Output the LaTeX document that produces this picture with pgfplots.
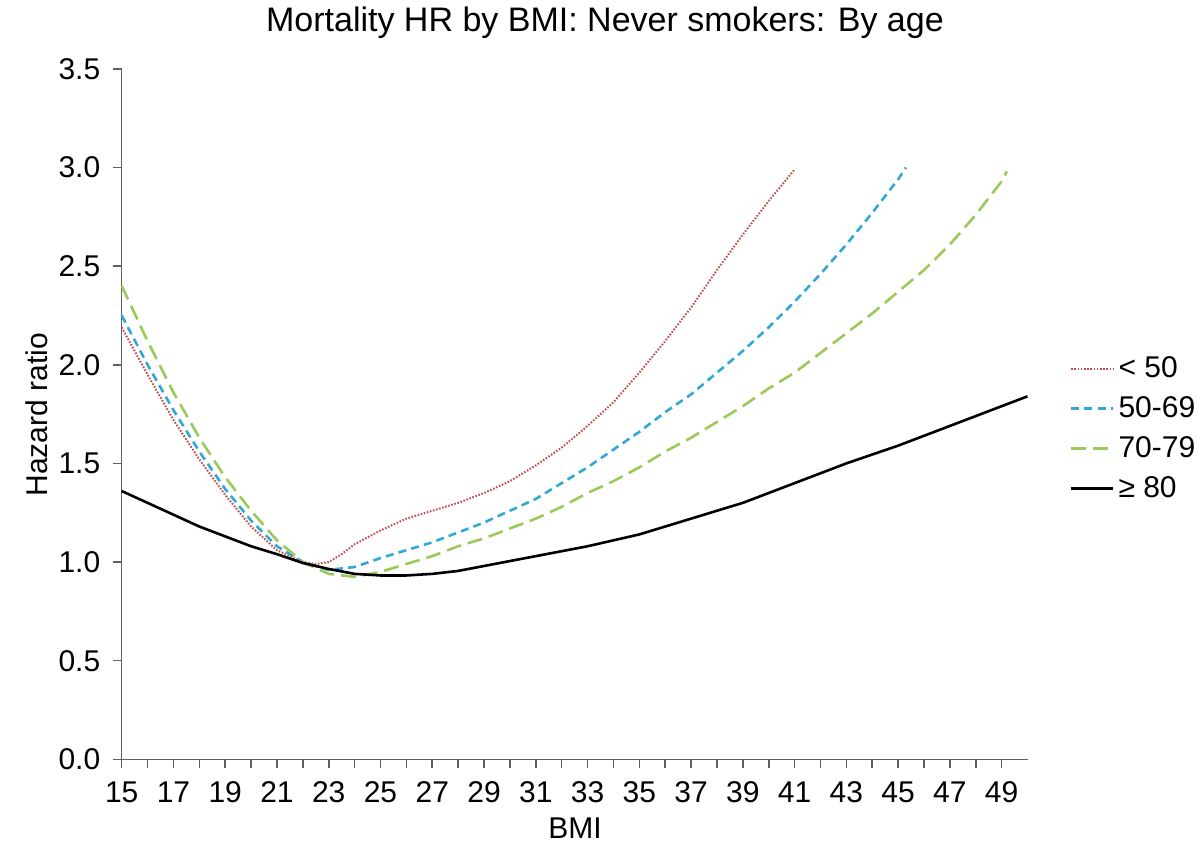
\documentclass[border=0pt]{standalone}
\usepackage{pgfplots}
\pgfplotsset{compat=1.18}
\usepackage{fontspec}
\setmainfont{Liberation Sans}
\definecolor{cred}{HTML}{C0504D}
\definecolor{cblue}{HTML}{31A9D4}
\definecolor{cgreen}{HTML}{9BC95A}
\definecolor{axgray}{HTML}{606060}
\begin{document}
\begin{tikzpicture}
\path[use as bounding box] (0,0) rectangle (600.5pt,421pt);
\begin{axis}[
  at={(60.85pt,41.35pt)}, anchor=south west,
  scale only axis, width=452.9pt, height=345.2pt,
  xmin=15, xmax=50, ymin=0, ymax=3.5,
  axis lines*=left,
  axis line style={axgray, line width=0.8pt},
  every tick/.style={axgray, line width=0.8pt},
  tick align=outside,
  major tick length=4.2pt, minor tick length=4.2pt,
  xtick={15,17,...,49}, minor xtick={16,18,...,48},
  ytick={0,0.5,...,3.5},
  yticklabel style={xshift=-3pt, /pgf/number format/.cd, fixed, fixed zerofill, precision=1},
  /pgf/number format/assume math mode=true,
  font=\fontsize{15}{18}\selectfont,
  ticklabel style={font=\fontsize{15}{18}\selectfont},
  xticklabel style={yshift=-3.5pt},
  title={Mortality HR by BMI: Never smokers: By age},
  title style={at={(axis description cs:0.5335,1)}, anchor=center, yshift=17pt, font=\fontsize{17}{20}\selectfont},
  xlabel={BMI},
  xlabel style={at={(axis description cs:0.5004,0)}, anchor=center, yshift=-34.5pt},
  ylabel={Hazard ratio},
  ylabel style={at={(axis description cs:0,0.499)}, anchor=center, yshift=42.3pt},
  legend cell align=left,
  legend style={draw=none, fill=none, at={(axis description cs:1,0.479)}, anchor=west, xshift=21pt,
    inner sep=0pt, row sep=4pt, font=\fontsize{15}{18}\selectfont,
    nodes={inner sep=2pt},
    /tikz/every even column/.append style={column sep=3pt}},
  legend image code/.code={\draw[#1] (0pt,0pt) -- (21pt,0pt);},
  clip=false,
]
\addplot[cred, line width=1pt, dash pattern=on 0.8pt off 0.8pt] coordinates {
(15,2.19) (16,1.95) (17,1.72) (18,1.52) (19,1.34) (20,1.18) (21,1.06) (22,1.00) (22.5,0.99) (23,1.00) (23.5,1.04) (24,1.09) (25,1.16) (26,1.22) (27,1.26) (28,1.30) (29,1.35) (30,1.41) (31,1.49) (32,1.58) (33,1.69) (34,1.81) (35,1.96) (36,2.12) (37,2.29) (38,2.48) (39,2.66) (40,2.83) (41,2.99)
};
\addlegendentry{< 50}
\addplot[cblue, line width=1.3pt, dash pattern=on 4pt off 2.6pt] coordinates {
(15,2.25) (16,2.00) (17,1.77) (18,1.56) (19,1.37) (20,1.21) (21,1.08) (22,1.00) (23,0.96) (24,0.975) (25,1.02) (26,1.06) (27,1.10) (28,1.15) (29,1.20) (30,1.26) (31,1.32) (32,1.40) (33,1.48) (34,1.57) (35,1.66) (36,1.76) (37,1.85) (38,1.96) (39,2.07) (40,2.19) (41,2.32) (42,2.46) (43,2.61) (44,2.77) (45,2.94) (45.3,3.00)
};
\addlegendentry{50-69}
\addplot[cgreen, line width=1.3pt, dash pattern=on 7.5pt off 3.5pt] coordinates {
(15,2.40) (16,2.12) (17,1.86) (18,1.63) (19,1.43) (20,1.26) (21,1.11) (22,1.00) (23,0.94) (24,0.925) (25,0.95) (26,0.99) (27,1.03) (28,1.08) (29,1.12) (30,1.17) (31,1.22) (32,1.28) (33,1.35) (34,1.41) (35,1.48) (36,1.56) (37,1.63) (38,1.71) (39,1.79) (40,1.88) (41,1.96) (42,2.06) (43,2.16) (44,2.26) (45,2.37) (46,2.48) (47,2.61) (48,2.76) (49,2.93) (49.2,2.98)
};
\addlegendentry{70-79}
\addplot[black, line width=1.3pt] coordinates {
(15,1.36) (16,1.30) (17,1.24) (18,1.18) (19,1.13) (20,1.08) (21,1.04) (22,0.995) (23,0.965) (24,0.94) (25,0.932) (26,0.932) (27,0.94) (28,0.955) (29,0.98) (30,1.005) (31,1.03) (32,1.055) (33,1.08) (34,1.11) (35,1.14) (36,1.18) (37,1.22) (38,1.26) (39,1.30) (40,1.35) (41,1.40) (42,1.45) (43,1.50) (44,1.545) (45,1.59) (46,1.64) (47,1.69) (48,1.74) (49,1.79) (50,1.84)
};
\addlegendentry{≥ 80}
\end{axis}
\end{tikzpicture}
\end{document}
